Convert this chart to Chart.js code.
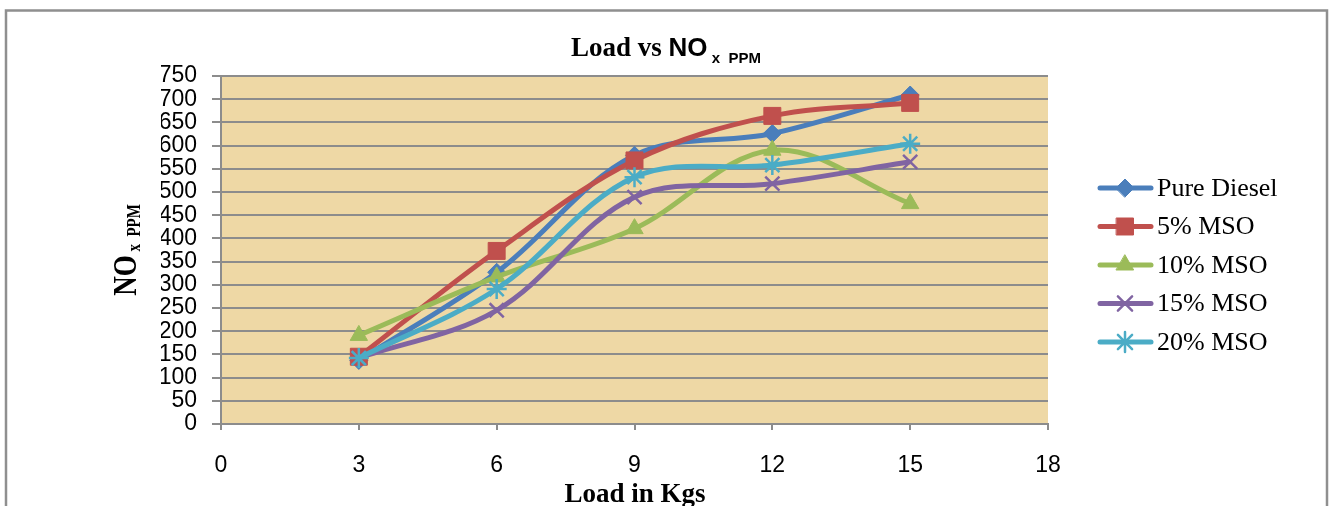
<!DOCTYPE html>
<html>
<head>
<meta charset="utf-8">
<script src="https://cdn.jsdelivr.net/npm/chart.js@4.4.1/dist/chart.umd.min.js"></script>
<style>
  html, body { margin: 0; padding: 0; background: #fff; }
  #wrap { position: relative; width: 1333px; height: 506px; }
</style>
</head>
<body>
<div id="wrap"><canvas id="line"></canvas></div>
<script>
// load in kg and NOx readings (ppm)
const loads = [3, 6, 9, 12, 15];
const seriesNames = ['Pure Diesel', '5% MSO', '10% MSO', '15% MSO', '20% MSO'];
const pureDiesel = [137, 327, 579, 626, 709];
const mso5 = [145, 373, 568, 664, 692];
const mso10 = [191, 317, 421, 590, 475];
const mso15 = [142, 245, 489, 518, 565];
const mso20 = [142, 291, 532, 558, 604];
const xTicks = [0, 3, 6, 9, 12, 15, 18];
const yTicks = [0, 50, 100, 150, 200, 250, 300, 350, 400, 450, 500, 550, 600, 650, 700, 750];

const colours = ['#4A7EBB', '#C0504D', '#9BBB59', '#8064A2', '#4BACC6'];
const markers = [
    { style: 'rectRot', radius: 9, width: 1 },
    { style: 'rect', radius: 12, width: 1 },
    { style: 'triangle', radius: 10, width: 1 },
    { style: 'crossRot', radius: 10, width: 2.5 },
    { style: 'star', radius: 10, width: 2.5 }
];
const gridGrey = '#8c8c8c';

function points(values) {
    return loads.map((x, i) => ({ x: x, y: values[i] }));
}

function make_datasets() {
    const all = [pureDiesel, mso5, mso10, mso15, mso20];
    return all.map((values, i) => ({
        label: seriesNames[i],
        data: points(values),
        borderColor: colours[i],
        backgroundColor: colours[i],
        borderWidth: 5,
        tension: 0.35,
        pointStyle: markers[i].style,
        pointRadius: markers[i].radius,
        pointBorderWidth: markers[i].width,
        pointBackgroundColor: colours[i],
        pointBorderColor: colours[i],
        order: 5 - i,
        clip: false
    }));
}

// plot background, frame, titles and the legend
const decorations = {
    id: 'decorations',
    beforeDraw(chart) {
        const ctx = chart.ctx;
        const a = chart.chartArea;
        ctx.save();
        ctx.fillStyle = '#fff';
        ctx.fillRect(0, 0, chart.width, chart.height);
        ctx.strokeStyle = '#8f8f8f';
        ctx.lineWidth = 2.5;
        ctx.strokeRect(6, 10.5, 1321, 520);
        ctx.fillStyle = '#EED8A5';
        ctx.fillRect(a.left, a.top, a.right - a.left, a.bottom - a.top);
        ctx.restore();
    },
    afterDraw(chart) {
        const ctx = chart.ctx;
        ctx.save();
        ctx.fillStyle = '#000';
        ctx.textBaseline = 'alphabetic';

        // chart title
        const f1 = 'bold 27px "Liberation Serif"';
        const f2 = 'bold 26px "Liberation Sans"';
        const f3 = 'bold 15px "Liberation Sans"';
        ctx.font = f1; const w1 = ctx.measureText('Load vs ').width;
        ctx.font = f2; const w2 = ctx.measureText('NO').width;
        ctx.font = f3; const w3 = ctx.measureText(' x  PPM').width;
        let x = 666 - (w1 + w2 + w3) / 2;
        ctx.font = f1; ctx.fillText('Load vs ', x, 56); x += w1;
        ctx.font = f2; ctx.fillText('NO', x, 56); x += w2;
        ctx.font = f3; ctx.fillText(' x  PPM', x, 63);

        // y axis title
        ctx.save();
        ctx.translate(136, 250);
        ctx.rotate(-Math.PI / 2);
        ctx.scale(1, 1.25);
        const g1 = 'bold 27px "Liberation Serif"';
        const g2 = 'bold 15px "Liberation Serif"';
        ctx.font = g1; const v1 = ctx.measureText('NO').width;
        ctx.font = g2; const v2 = ctx.measureText(' x  PPM').width;
        let y = -(v1 + v2) / 2;
        ctx.font = g1; ctx.fillText('NO', y, 0); y += v1;
        ctx.font = g2; ctx.fillText(' x  PPM', y, 3);
        ctx.restore();

        // x axis title
        ctx.font = 'bold 27px "Liberation Serif"';
        ctx.textAlign = 'center';
        ctx.fillText('Load in Kgs', 635, 502);

        // legend
        ctx.textAlign = 'left';
        ctx.textBaseline = 'middle';
        ctx.font = '26px "Liberation Serif"';
        chart.data.datasets.forEach((ds, i) => {
            const cy = 188 + i * 38.5;
            ctx.strokeStyle = ds.borderColor;
            ctx.lineWidth = 5;
            ctx.lineCap = 'round';
            ctx.beginPath();
            ctx.moveTo(1100, cy);
            ctx.lineTo(1151, cy);
            ctx.stroke();
            ctx.fillStyle = ds.pointBackgroundColor;
            ctx.strokeStyle = ds.pointBorderColor;
            ctx.lineWidth = ds.pointBorderWidth;
            Chart.helpers.drawPoint(ctx, {
                pointStyle: ds.pointStyle,
                radius: ds.pointRadius,
                rotation: 0,
                borderWidth: ds.pointBorderWidth
            }, 1125, cy);
            ctx.fillStyle = '#000';
            ctx.fillText(ds.label, 1157, cy + 1);
        });
        ctx.restore();
    }
};

function chart() {
    const ctx = document.getElementById('line');
    const tickFont = { family: '"Liberation Sans"', size: 23 };

    new Chart(ctx, {
        type: 'line',
        data: { datasets: make_datasets() },
        options: {
            responsive: true,
            maintainAspectRatio: false,
            animation: false,
            layout: { padding: { top: 76, left: 161, right: 285, bottom: 22 } },
            plugins: {
                legend: { display: false },
                title: { display: false },
                tooltip: { enabled: false }
            },
            scales: {
                x: {
                    type: 'linear',
                    min: 0,
                    max: 18,
                    afterBuildTicks: scale => { scale.ticks = xTicks.map(v => ({ value: v })); },
                    afterFit: scale => { scale.height = 60; },
                    grid: { drawOnChartArea: false, drawTicks: true, tickLength: 6, color: gridGrey, lineWidth: 2 },
                    border: { color: gridGrey, width: 2 },
                    ticks: { font: tickFont, color: '#000', padding: 22, maxRotation: 0, autoSkip: false }
                },
                y: {
                    type: 'linear',
                    min: 0,
                    max: 750,
                    afterBuildTicks: scale => { scale.ticks = yTicks.map(v => ({ value: v })); },
                    afterFit: scale => { scale.width = 60; },
                    grid: { color: gridGrey, lineWidth: 2, drawTicks: true, tickLength: 9 },
                    border: { color: gridGrey, width: 2 },
                    ticks: { font: tickFont, color: '#000', padding: 15, autoSkip: false }
                }
            }
        },
        plugins: [decorations]
    });
}

chart();
</script>
</body>
</html>
